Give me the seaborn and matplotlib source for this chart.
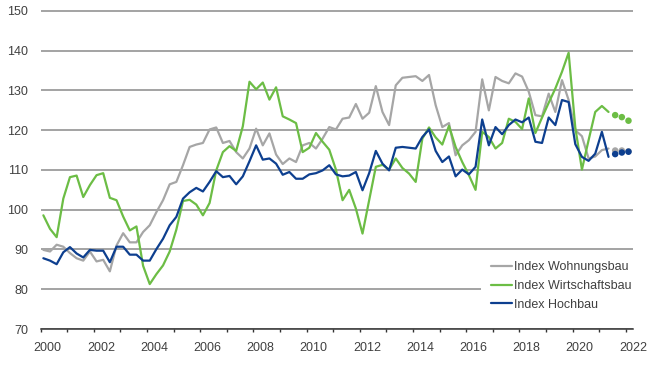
import numpy as np
import pandas as pd
import matplotlib.pyplot as plt
import matplotlib.transforms as mtransforms
import seaborn as sns

# quarterly index values, 2000 Q1 - 2021 Q2
wohnungsbau = [89.9, 89.5, 91.2, 90.7, 89.1, 87.8, 87.2, 89.5, 87.0, 87.4,
               84.5, 91.0, 94.1, 91.8, 91.8, 94.4, 96.1, 99.4, 102.4, 106.4,
               107.0, 111.2, 115.8, 116.4, 116.8, 120.2, 120.7, 116.8, 117.3, 114.5,
               112.9, 115.4, 120.4, 116.2, 119.2, 113.9, 111.5, 112.9, 112.0, 116.2,
               116.8, 115.4, 117.9, 120.8, 120.2, 122.9, 123.2, 126.6, 122.9, 124.4,
               131.1, 124.6, 121.3, 131.3, 133.2, 133.4, 133.6, 132.4, 133.9, 126.3,
               120.8, 121.8, 113.7, 116.2, 117.5, 119.6, 132.8, 125.0, 133.4, 132.4,
               131.8, 134.3, 133.5, 129.7, 123.8, 123.5, 129.2, 124.6, 132.6, 127.6,
               120.0, 118.5, 112.9, 113.4, 115.0, 115.4]
wirtschaftsbau = [98.6, 95.2, 93.1, 102.8, 108.2, 108.6, 103.2, 106.2, 108.7, 109.2,
                  103.0, 102.4, 98.3, 94.8, 95.8, 85.9, 81.3, 83.8, 86.0, 89.5,
                  95.0, 102.2, 102.5, 101.3, 98.6, 101.7, 109.9, 114.5, 116.0, 114.8,
                  121.0, 132.2, 130.3, 132.0, 127.7, 130.8, 123.5, 122.7, 121.8, 114.5,
                  115.6, 119.3, 117.1, 115.1, 110.1, 102.4, 105.0, 100.3, 94.0, 102.4,
                  110.8, 111.3, 110.1, 112.9, 110.5, 109.1, 107.0, 117.9, 120.7, 118.2,
                  116.4, 121.1, 115.8, 112.0, 108.7, 105.0, 119.6, 118.3, 115.4, 116.8,
                  122.9, 122.1, 120.3, 128.0, 119.3, 123.2, 126.9, 130.5, 134.7, 139.5,
                  120.7, 110.1, 117.5, 124.6, 126.1, 124.6]
hochbau = [87.8, 87.2, 86.3, 89.3, 90.6, 89.0, 88.0, 89.9, 89.7, 89.7,
           86.8, 90.7, 90.7, 88.7, 88.7, 87.2, 87.2, 90.1, 92.7, 96.1,
           98.2, 102.8, 104.4, 105.5, 104.6, 107.0, 109.7, 108.2, 108.5, 106.4,
           108.4, 112.2, 116.2, 112.6, 112.9, 111.6, 108.8, 109.5, 107.8, 107.8,
           108.9, 109.2, 109.9, 111.2, 108.9, 108.4, 108.6, 109.5, 104.9, 109.2,
           114.8, 111.6, 109.9, 115.6, 115.8, 115.6, 115.4, 118.3, 120.2, 114.8,
           112.0, 113.4, 108.4, 110.1, 108.9, 110.8, 122.7, 116.2, 120.8, 119.0,
           121.3, 122.7, 122.0, 123.2, 117.1, 116.8, 123.2, 121.3, 127.6, 127.1,
           116.5, 113.3, 112.3, 114.1, 119.6, 113.3]

# forecast points 2021 Q3 - 2022 Q1
prog_wohnungsbau = [114.9, 114.9, 114.7]
prog_wirtschaftsbau = [123.8, 123.3, 122.4]
prog_hochbau = [114.0, 114.4, 114.6]

series_names = ['Index Wohnungsbau', 'Index Wirtschaftsbau', 'Index Hochbau']
colors = ['#a6a6a6', '#6cbd45', '#0d3f8f']
year_ticks = list(range(2000, 2023))
year_labels = [str(y) if y % 2 == 0 else '' for y in year_ticks]
y_ticks = list(range(70, 151, 10))

n = len(hochbau)
quarters = 2000.1 + 0.25 * np.arange(n)
prog_quarters = quarters[-1] + 0.25 * np.arange(1, 4)

df = pd.DataFrame({
    'Quartal': np.tile(quarters, 3),
    'Index': wohnungsbau + wirtschaftsbau + hochbau,
    'Reihe': np.repeat(series_names, n),
})
df_prog = pd.DataFrame({
    'Quartal': np.tile(prog_quarters, 3),
    'Index': prog_wohnungsbau + prog_wirtschaftsbau + prog_hochbau,
    'Reihe': np.repeat(series_names, 3),
})
pal = dict(zip(series_names, colors))

sns.set_style('white')
plt.rcParams['font.family'] = ['Liberation Sans', 'DejaVu Sans']
txt_col = '#404040'

fig = plt.figure(figsize=(6.53, 3.66), dpi=100)
ax = fig.add_axes([40.7 / 653, 1 - 329 / 366, (633 - 40.7) / 653, (329 - 9) / 366])

sns.lineplot(data=df, x='Quartal', y='Index', hue='Reihe', palette=pal,
             linewidth=1.6, ax=ax)
sns.scatterplot(data=df_prog, x='Quartal', y='Index', hue='Reihe', palette=pal,
                s=22, linewidth=0, legend=False, ax=ax, zorder=3)

ax.set_xlim(2000, 2022.27)
ax.set_ylim(70, 150.5)
ax.set_yticks(y_ticks)
ax.set_xticks(year_ticks)
ax.set_xticklabels(year_labels)
ax.set_xlabel('')
ax.set_ylabel('')
ax.yaxis.grid(True, color='#8a8a8a', linewidth=1.1)
ax.set_axisbelow(True)
for s in ['top', 'left', 'right']:
    ax.spines[s].set_visible(False)
ax.spines['bottom'].set_color('#333333')
ax.spines['bottom'].set_linewidth(1.1)
ax.tick_params(axis='y', length=0, pad=9, labelsize=9, labelcolor=txt_col)
ax.tick_params(axis='x', direction='out', length=2.5, width=1, color='#333333',
               pad=7, labelsize=9, labelcolor=txt_col, bottom=True)

offset = mtransforms.ScaledTranslation(7 / 100, 0, fig.dpi_scale_trans)
for lab in ax.xaxis.get_majorticklabels():
    lab.set_transform(lab.get_transform() + offset)

handles, labels = ax.get_legend_handles_labels()
leg = ax.legend(handles, labels, loc='upper left',
                bbox_to_anchor=(481 / 653, 1 - 251 / 366), bbox_transform=fig.transFigure,
                borderaxespad=0, borderpad=0.8, frameon=True, fancybox=False,
                facecolor='white', edgecolor='none', framealpha=1,
                fontsize=9, handlelength=1.7, handletextpad=0.15, labelspacing=0.55)
for t in leg.get_texts():
    t.set_color(txt_col)

fig.savefig('out.png', dpi=100)
